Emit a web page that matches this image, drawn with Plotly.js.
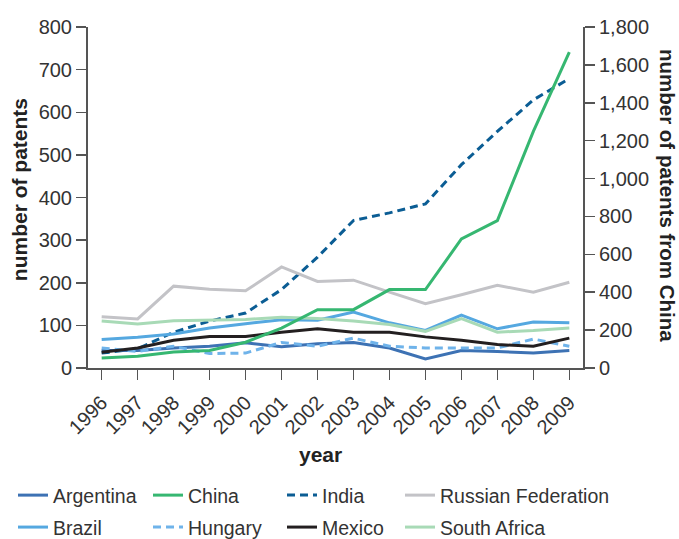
<!DOCTYPE html>
<html>
<head>
<meta charset="utf-8">
<script src="https://cdn.plot.ly/plotly-3.0.1.min.js"></script>
<style>html,body{margin:0;padding:0;background:#fff;}#chart{width:679px;height:539px;}</style>
</head>
<body>
<div id="chart"></div>
<script>
const years = [1996,1997,1998,1999,2000,2001,2002,2003,2004,2005,2006,2007,2008,2009];
const argentina = [41,41,47,51,59,50,57,60,47,21,41,39,35,41];
const china = [53,62,85,92,136,211,308,308,414,414,681,778,1249,1668];
const india = [35,45,84,110,129,184,260,346,364,385,477,555,629,679];
const russia = [120,115,192,185,181,237,203,206,178,151,172,194,178,201];
const brazil = [67,72,80,94,104,113,112,131,106,88,124,92,108,106];
const hungary = [47,39,51,34,35,60,51,70,51,47,47,47,68,51];
const mexico = [37,47,65,74,74,84,92,84,84,73,65,55,51,70];
const southAfrica = [110,103,111,113,114,119,116,110,102,86,116,84,88,94];

const FONT = "Liberation Sans, Arial, sans-serif";
const BOLD = "Liberation Sans, Arial, sans-serif";

function tr(name, y, color, dash, axis, leg) {
  return {x: years, y: y, name: name, type: 'scatter', mode: 'lines',
    yaxis: axis || 'y', legend: leg,
    line: {color: color, width: 3, dash: dash || 'solid'}};
}
const data = [
  tr('Argentina', argentina, '#3d72b4', null, 'y', 'legend'),
  tr('China', china, '#36b771', null, 'y2', 'legend2'),
  tr('India', india, '#0b5d94', '8px,5px', 'y', 'legend3'),
  tr('Russian Federation', russia, '#c3c3c7', null, 'y', 'legend4'),
  tr('Brazil', brazil, '#55a8e0', null, 'y', 'legend5'),
  tr('Hungary', hungary, '#6fb3ea', '8px,5px', 'y', 'legend6'),
  tr('Mexico', mexico, '#231f20', null, 'y', 'legend7'),
  tr('South Africa', southAfrica, '#a8dab6', null, 'y', 'legend8')
];

const axisCommon = {showgrid: false, zeroline: false, showline: true, linecolor: '#555', linewidth: 2,
  ticks: 'outside', ticklen: 10, tickwidth: 1.5, tickcolor: '#555', automargin: false,
  tickfont: {family: FONT, size: 20, color: '#333'}};

function leg(xpx, row) {
  return {orientation: 'v', xref: 'container', yref: 'container',
    x: xpx / 679, y: row === 0 ? 0.117 : 0.0577, xanchor: 'left', yanchor: 'top',
    bgcolor: 'rgba(0,0,0,0)', font: {family: FONT, size: 19.5, color: '#333'}};
}

const layout = {
  width: 679, height: 539,
  margin: {l: 88, r: 96, t: 27, b: 171, autoexpand: false},
  paper_bgcolor: '#fff', plot_bgcolor: '#fff',
  showlegend: true,
  legend: leg(13, 0), legend2: leg(148, 0), legend3: leg(282, 0), legend4: leg(400, 0),
  legend5: leg(13, 1), legend6: leg(148, 1), legend7: leg(282, 1), legend8: leg(400, 1),
  xaxis: Object.assign({}, axisCommon, {range: [1995.62, 2009.38], tickvals: years,
    ticktext: years.map(String), tickangle: -45, ticklabelstandoff: 3}),
  yaxis: Object.assign({}, axisCommon, {range: [0, 800], dtick: 100, tick0: 0}),
  yaxis2: Object.assign({}, axisCommon, {range: [0, 1800], dtick: 200, tick0: 0,
    overlaying: 'y', side: 'right', separatethousands: true, tickformat: ',d'}),
  annotations: [
    {text: '<b>number of patents</b>', xref: 'paper', yref: 'paper', x: -0.137, y: 0.522,
      xanchor: 'center', yanchor: 'middle',
      textangle: -90, showarrow: false, font: {family: BOLD, size: 21, color: '#222'}},
    {text: '<b>number of patents from China</b>', xref: 'paper', yref: 'paper', x: 1.172, y: 0.507,
      xanchor: 'center', yanchor: 'middle',
      textangle: 90, showarrow: false, font: {family: BOLD, size: 20.5, color: '#222'}},
    {text: '<b>year</b>', xref: 'paper', yref: 'paper', x: 0.469, y: -0.255,
      xanchor: 'center', yanchor: 'middle',
      showarrow: false, font: {family: BOLD, size: 21, color: '#222'}}
  ]
};

Plotly.newPlot('chart', data, layout, {displayModeBar: false, staticPlot: true});
</script>
</body>
</html>
